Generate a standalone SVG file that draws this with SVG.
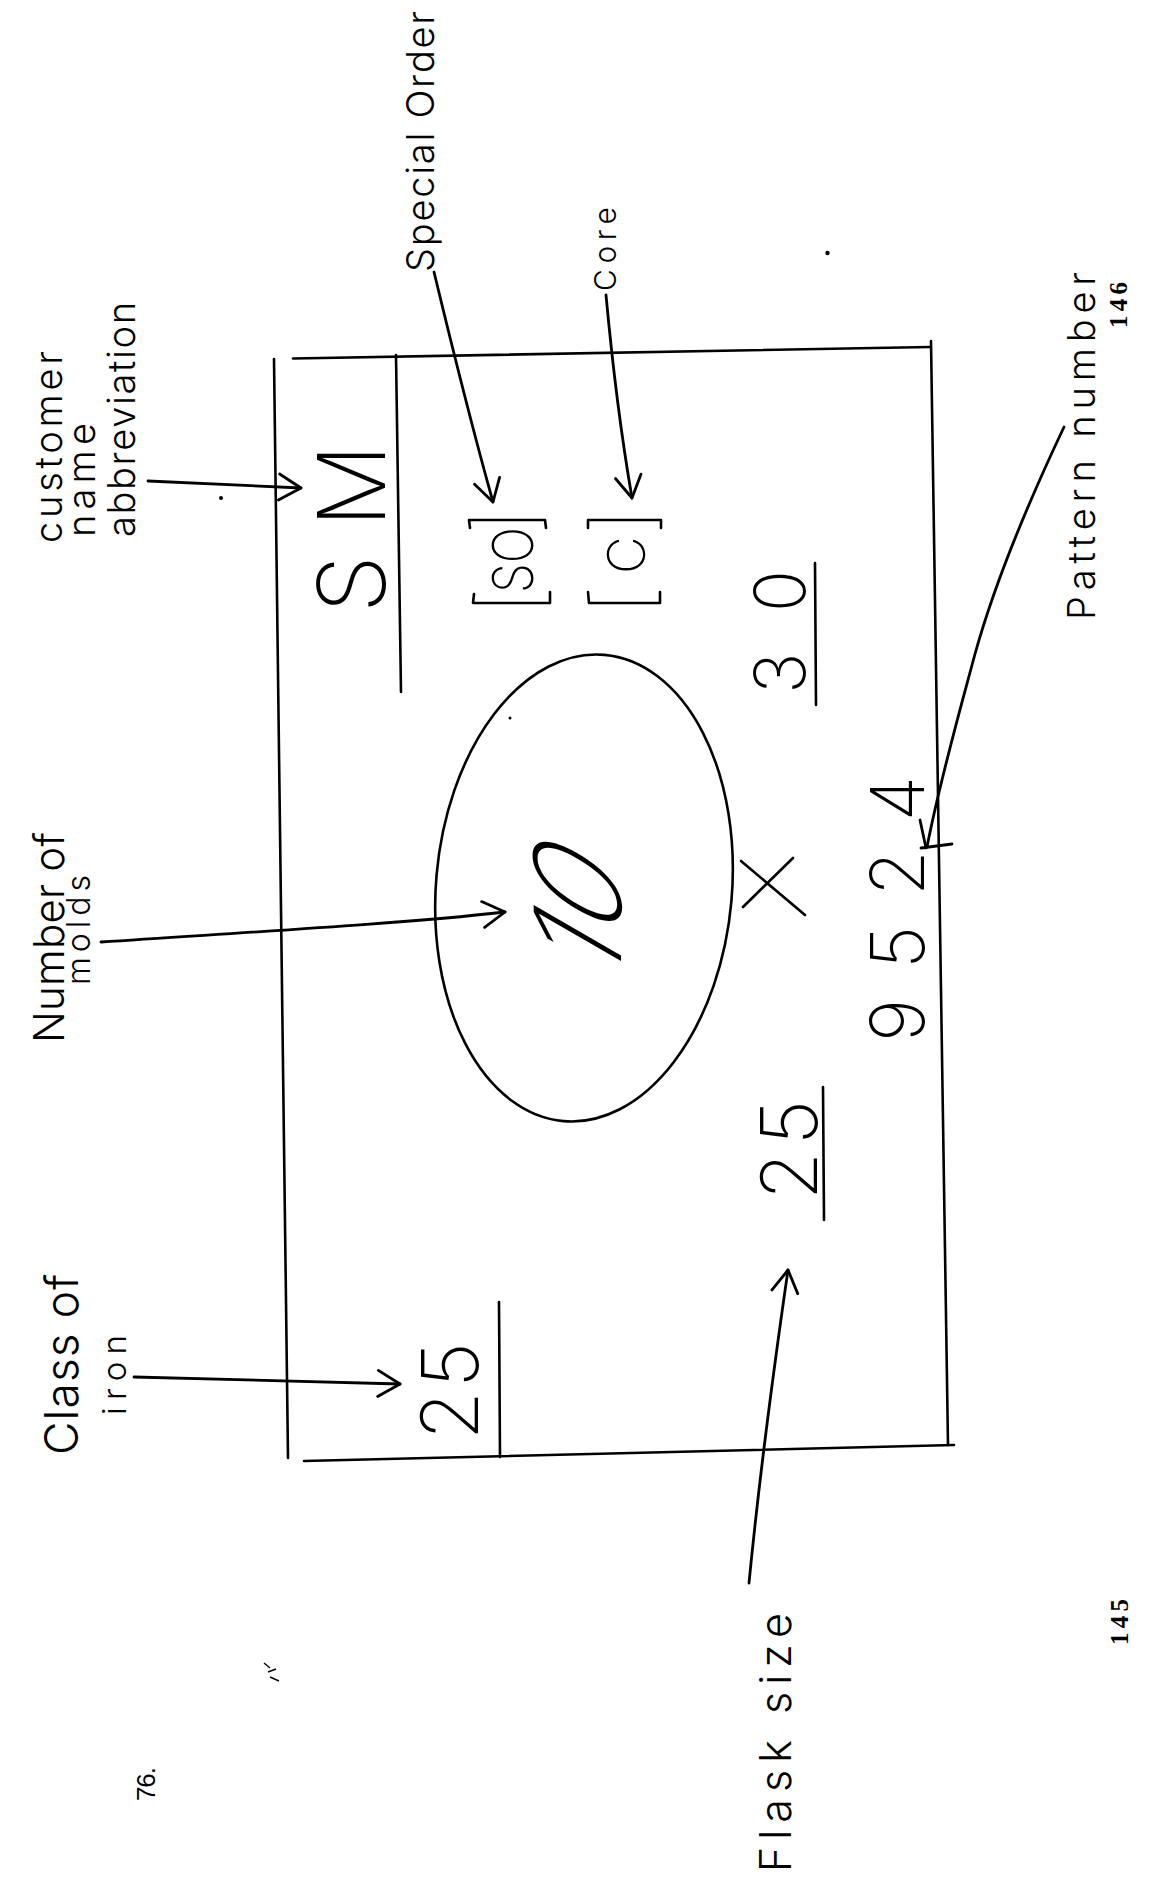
<svg xmlns="http://www.w3.org/2000/svg" width="1156" height="1879" viewBox="0 0 1156 1879">
<style>
.ln{fill:none;stroke:#000;stroke-width:2.6;stroke-linecap:round;stroke-linejoin:round}
.ar{fill:none;stroke:#000;stroke-width:2.8;stroke-linecap:round;stroke-linejoin:round}
.h{font-family:"Inter","Roboto","Liberation Sans",sans-serif;font-weight:300;fill:#000}
.big{font-family:"Inter","Roboto","Liberation Sans",sans-serif;font-weight:200;fill:#000}
.ty{font-family:"Liberation Serif",serif;font-weight:bold;fill:#000}
.tn{font-family:"Liberation Sans",sans-serif;fill:#000}
</style>
<defs>
<marker id="arr" markerUnits="userSpaceOnUse" viewBox="0 0 26 30" refX="24" refY="15" markerWidth="26" markerHeight="30" orient="auto">
<path d="M2,2 L24,15 L2,28" fill="none" stroke="#000" stroke-width="2.8" stroke-linecap="round" stroke-linejoin="round"/>
</marker>
</defs>
<rect width="1156" height="1879" fill="#fff"/>

<g id="frame">
<path class="ln" d="M293,358.5 L930,347"/>
<path class="ln" d="M931,341 L948,1445"/>
<path class="ln" d="M304,1461 L954,1445"/>
<path class="ln" d="M274,359 L288,1458"/>
<path class="ln" d="M396,355 L401,692"/>
<path class="ln" d="M499,1302 L500,1457"/>
<path class="ln" d="M815,563 L816,705"/>
<path class="ln" d="M823,1087 L824,1220"/>
</g>

<g id="molds-ellipse">
<ellipse class="ln" cx="584" cy="888" rx="148" ry="234" transform="rotate(5 584 888)"/>
</g>

<g id="node-customer-label">
<text class="h" font-size="38" x="62" y="543" textLength="192" lengthAdjust="spacing" transform="rotate(-90 62 543)">customer</text>
<text class="h" font-size="38" x="95" y="537" textLength="114" lengthAdjust="spacing" transform="rotate(-90 95 537)">name</text>
<text class="h" font-size="38" x="135" y="537" textLength="235" lengthAdjust="spacing" transform="rotate(-90 135 537)">abbreviation</text>
</g>

<g id="node-special-order-label">
<text class="h" font-size="38" x="434" y="272" textLength="261" lengthAdjust="spacing" transform="rotate(-90 434 272)">Special Order</text>
</g>

<g id="node-core-label">
<text class="h" font-size="30" x="616" y="291" textLength="84" lengthAdjust="spacing" transform="rotate(-90 616 291)">Core</text>
</g>

<g id="node-molds-label">
<text class="h" font-size="42" x="64" y="1043" textLength="211" lengthAdjust="spacing" transform="rotate(-90 64 1043)">Number of</text>
<text class="h" font-size="32" x="90" y="985" textLength="110" lengthAdjust="spacing" transform="rotate(-90 90 985)">molds</text>
</g>

<g id="node-class-label">
<text class="h" font-size="46" x="78" y="1455" textLength="181" lengthAdjust="spacing" transform="rotate(-90 78 1455)">Class of</text>
<text class="h" font-size="33" x="126" y="1415" textLength="80" lengthAdjust="spacing" transform="rotate(-90 126 1415)">iron</text>
</g>

<g id="node-flask-label">
<text class="h" font-size="43" x="791" y="1872" textLength="259" lengthAdjust="spacing" transform="rotate(-90 791 1872)">Flask size</text>
</g>

<g id="node-pattern-label">
<text class="h" font-size="38" x="1095" y="620" textLength="348" lengthAdjust="spacing" transform="rotate(-90 1095 620)">Pattern number</text>
<text class="ty" font-size="25" x="1127" y="328" textLength="46" lengthAdjust="spacing" transform="rotate(-90 1127 328)">146</text>
</g>

<g id="node-sm">
<text class="big" font-size="93" x="385" y="613" textLength="169" lengthAdjust="spacing" transform="rotate(-90 385 613)">SM</text>
</g>

<g id="node-so">
<path class="ln" d="M470,528 L469,520 L545,520 L546,528 M474,594 L473,603 L550,603 L550,592"/>
<text class="big" font-size="56" x="533" y="593" textLength="66" lengthAdjust="spacingAndGlyphs" transform="rotate(-90 533 593)">SO</text>
</g>

<g id="node-core">
<path class="ln" d="M588,528 L588,520 L661,520 L661,528 M588,592 L589,603 L660,603 L660,592"/>
<text class="big" font-size="52" x="645" y="574" transform="rotate(-90 645 574)">C</text>
</g>

<g id="node-30">
<text class="big" font-size="70" x="805" y="694" textLength="124" lengthAdjust="spacing" transform="rotate(-90 805 694)">30</text>
</g>

<g id="node-10">
<text class="big" font-size="120" text-anchor="middle" x="0" y="44" transform="translate(577 904) rotate(-90) skewX(-30)">10</text>
</g>

<g id="node-x">
<path class="ln" d="M741,861 L805,915 M743,907 L793,858"/>
</g>

<g id="node-flask-25">
<text class="big" font-size="78" x="817" y="1200" textLength="100" lengthAdjust="spacing" transform="rotate(-90 817 1200)">25</text>
</g>

<g id="node-class-25">
<text class="big" font-size="79" x="478" y="1440" textLength="98" lengthAdjust="spacing" transform="rotate(-90 478 1440)">25</text>
</g>

<g id="node-9524">
<text class="big" font-size="74" x="924" y="1042" textLength="266" lengthAdjust="spacing" transform="rotate(-90 924 1042)">9524</text>
</g>

<g id="page-marks">
<text class="tn" font-size="26" x="155" y="1801" textLength="34" lengthAdjust="spacing" transform="rotate(-90 155 1801)">76.</text>
<text class="ty" font-size="25" x="1128" y="1645" textLength="46" lengthAdjust="spacing" transform="rotate(-90 1128 1645)">145</text>
<circle cx="221" cy="498" r="2"/>
<circle cx="827.5" cy="253" r="2.2"/>
<circle cx="510" cy="718" r="1.5"/>
<path d="M264,1663 L270,1668 M268,1672 L276,1669 M270,1677 L279,1681" fill="none" stroke="#000" stroke-width="1.4"/>
</g>

<g id="connectors">
<path class="ar" d="M148,481 L301,488" marker-end="url(#arr)"/>
<path class="ar" d="M434,272 C448,330 470,420 493,502" marker-end="url(#arr)"/>
<path class="ar" d="M606,295 C612,360 622,440 632,498" marker-end="url(#arr)"/>
<path class="ar" d="M101,942 C250,932 400,924 505,912" marker-end="url(#arr)"/>
<path class="ar" d="M134,1377 L400,1384" marker-end="url(#arr)"/>
<path class="ar" d="M749,1583 C760,1470 775,1360 788,1270" marker-end="url(#arr)"/>
<path class="ar" d="M1064,427 C1020,520 990,600 975,654 C960,710 940,780 927,847"/>
<path class="ar" d="M920,820 L926,848 M921,848 L952,844"/>
</g>
</svg>
